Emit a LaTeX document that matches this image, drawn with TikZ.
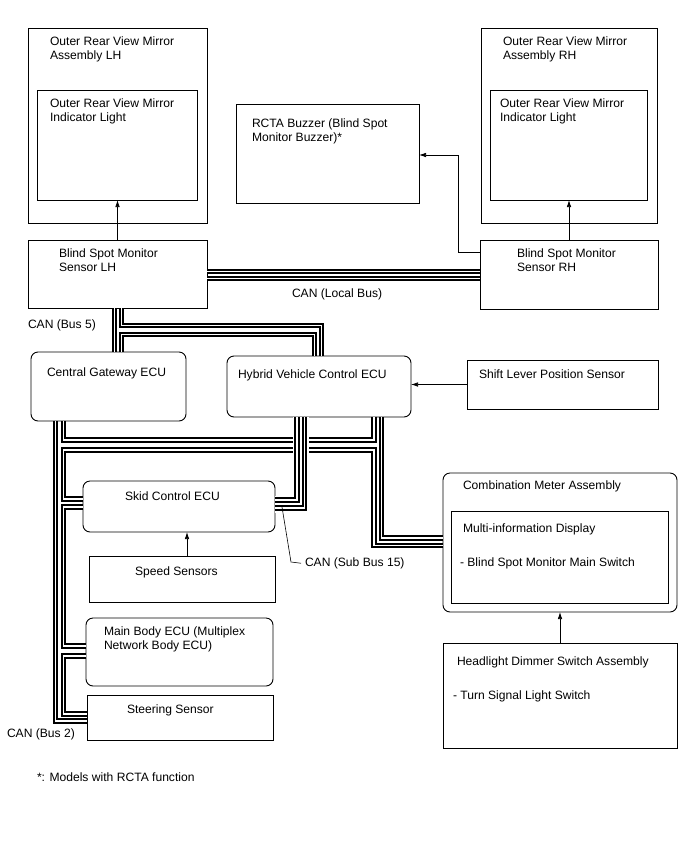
\documentclass[tikz,border=0pt]{standalone}
\usepackage{fontspec}
\setmainfont{Liberation Sans}
\usetikzlibrary{arrows.meta,calc}
\begin{document}
\begin{tikzpicture}[x=1pt,y=-1pt,
  box/.style 2 args={draw=black, line width=0.9pt, anchor=north west, inner sep=0pt, outer sep=0pt, minimum width=#1, minimum height=#2},
  rbox/.style 2 args={box={#1}{#2}, rounded corners=7pt},
  lbl/.style={anchor=north west, inner sep=0pt, outer sep=0pt, align=left, font=\fontsize{12.1}{14.5}\selectfont},
  arr/.style={draw=black, line width=0.7pt, -{Latex[length=7pt,width=4.5pt]}},
  bus/.style={draw=black, line width=2pt, double=white, double distance=1.8pt},
  xbus/.style={bus, preaction={draw=white, line width=9pt}},
  leader/.style={draw=black, line width=0.6pt}
]
\useasboundingbox[fill=white] (0,0) rectangle (688,852);

% ---------- boxes ----------
\node[box={179pt}{195pt}] (lhm) at (28,28) {};
\node[box={160pt}{110pt}] (lind) at (37,90) {};
\node[box={183pt}{99pt}] (buz) at (236,104) {};
\node[box={176pt}{195pt}] (rhm) at (481,28) {};
\node[box={157pt}{110pt}] (rind) at (490,90) {};
\node[box={179pt}{68pt}] (slh) at (28,240) {};
\node[box={178pt}{69pt}] (srh) at (480,240) {};
\node[rbox={155pt}{69pt}] (cg) at (31,352) {};
\node[rbox={184pt}{61pt}] (hv) at (227,356) {};
\node[box={191pt}{49pt}] (shift) at (467,360) {};
\node[rbox={192pt}{51pt}] (sk) at (83,481) {};
\node[box={186pt}{46pt}] (spd) at (89,556) {};
\node[rbox={187pt}{68pt}] (mb) at (86,618) {};
\node[box={186pt}{45pt}] (ss) at (87,695) {};
\node[rbox={234pt}{139pt}] (cm) at (443,473) {};
\node[box={217pt}{92pt}] (mid) at (451,511) {};
\node[box={234pt}{105pt}] (hd) at (443,643) {};

% ---------- texts ----------
\node[lbl] (t-lhm) at (50,36.6) {Outer Rear View Mirror\\Assembly LH};
\node[lbl] (t-lind) at (50,98.6) {Outer Rear View Mirror\\Indicator Light};
\node[lbl] (t-buz) at (252,118.6) {RCTA Buzzer (Blind Spot\\Monitor Buzzer)*};
\node[lbl] (t-rhm) at (503,36.6) {Outer Rear View Mirror\\Assembly RH};
\node[lbl] (t-rind) at (500,98.6) {Outer Rear View Mirror\\Indicator Light};
\node[lbl] (t-slh) at (59,248.6) {Blind Spot Monitor\\Sensor LH};
\node[lbl] (t-srh) at (517,248.6) {Blind Spot Monitor\\Sensor RH};
\node[lbl] (t-local) at (292,288.6) {CAN (Local Bus)};
\node[lbl] (t-bus5) at (28,319.6) {CAN (Bus 5)};
\node[lbl] (t-cg) at (47,367.6) {Central Gateway ECU};
\node[lbl] (t-hv) at (238,369.6) {Hybrid Vehicle Control ECU};
\node[lbl] (t-shift) at (479,369.6) {Shift Lever Position Sensor};
\node[lbl] (t-sk) at (125,491.6) {Skid Control ECU};
\node[lbl] (t-spd) at (135,566.6) {Speed Sensors};
\node[lbl] (t-mb) at (104,626.6) {Main Body ECU (Multiplex\\Network Body ECU)};
\node[lbl] (t-ss) at (127,704.6) {Steering Sensor};
\node[lbl] (t-bus2) at (7,728.6) {CAN (Bus 2)};
\node[lbl] (t-sub) at (305,557.6) {CAN (Sub Bus 15)};
\node[lbl] (t-cm) at (463,480.6) {Combination Meter Assembly};
\node[lbl] (t-mid) at (463,523.6) {Multi-information Display};
\node[lbl] (t-bsm) at (460,557.6) {- Blind Spot Monitor Main Switch};
\node[lbl] (t-hd) at (457,656.6) {Headlight Dimmer Switch Assembly};
\node[lbl] (t-tsl) at (453,690.6) {- Turn Signal Light Switch};
\node[lbl] (t-note) at (37,772.6) {*: Models with RCTA function};

% ---------- signal arrows ----------
\draw[arr] (slh.north) -- (slh.north |- lind.south);
\draw[arr] (srh.north) -- (srh.north |- rind.south);
\coordinate (xbz) at (458,0);
\coordinate (ybz) at (0,155);
\coordinate (ysr) at (0,252);
\draw[arr] (srh.west |- ysr) -- (xbz |- ysr) -- (xbz |- ybz) -- (buz.east |- ybz);
\draw[arr] (shift.west) -- (shift.west -| hv.east);
\draw[arr] ([xshift=98pt]spd.north west) -- ([xshift=98pt]spd.north west |- sk.south);
\draw[arr] (hd.north) -- (hd.north |- cm.south);

% ---------- lanes ----------
\coordinate (yL1) at (0,271.5);
\coordinate (yL2) at (0,278.5);
\coordinate (x5a) at (114.5,0);
\coordinate (x5b) at (121.5,0);
\coordinate (y5a) at (0,325.5);
\coordinate (y5b) at (0,334.5);
\coordinate (x5c) at (321.5,0);
\coordinate (x5d) at (314.5,0);
\coordinate (xA) at (55.5,0);
\coordinate (xB) at (63.5,0);
\coordinate (yR2) at (0,440);
\coordinate (yR3) at (0,450);
\coordinate (xC) at (374,0);
\coordinate (xD) at (381.5,0);
\coordinate (yCM1) at (0,538);
\coordinate (yCM2) at (0,545.5);
\coordinate (ySk1) at (0,499);
\coordinate (ySk2) at (0,507);
\coordinate (yMB1) at (0,646);
\coordinate (yMB2) at (0,656);
\coordinate (ySt1) at (0,714);
\coordinate (ySt2) at (0,721);
\coordinate (xS1) at (297,0);
\coordinate (xS2) at (304.5,0);
\coordinate (yS1) at (0,500);
\coordinate (yS2) at (0,508);

% ---------- CAN local bus ----------
\draw[bus] (slh.east |- yL1) -- (srh.west |- yL1);
\draw[bus] (slh.east |- yL2) -- (srh.west |- yL2);

% ---------- CAN bus 5 ----------
\draw[bus] (slh.south -| x5a) -- (cg.north -| x5a);
\draw[bus] (slh.south -| x5b) -- (x5b |- y5a) -- (x5c |- y5a) -- (hv.north -| x5c);
\draw[bus] (cg.north -| x5b) -- (x5b |- y5b) -- (x5d |- y5b) -- (hv.north -| x5d);

% ---------- CAN bus 2 ----------
\draw[bus] (cg.south -| xA) -- (xA |- ySt2) -- (ss.west |- ySt2);
\draw[bus] (cg.south -| xB) -- (xB |- yR2) -- (xC |- yR2) -- (hv.south -| xC);
\draw[bus] (hv.south -| xD) -- (xD |- yCM1) -- (cm.west |- yCM1);
\draw[bus] (cm.west |- yCM2) -- (xC |- yCM2) -- (xC |- yR3) -- (xB |- yR3) -- (xB |- ySk1) -- (sk.west |- ySk1);
\draw[bus] (sk.west |- ySk2) -- (xB |- ySk2) -- (xB |- yMB1) -- (mb.west |- yMB1);
\draw[bus] (mb.west |- yMB2) -- (xB |- yMB2) -- (xB |- ySt1) -- (ss.west |- ySt1);

% ---------- CAN sub bus 15 ----------
\draw[xbus] (hv.south -| xS1) -- (xS1 |- yS1) -- (sk.east |- yS1);
\draw[xbus] (hv.south -| xS2) -- (xS2 |- yS2) -- (sk.east |- yS2);

% ---------- leader ----------
\coordinate (ldr) at (282,507);
\draw[leader] (ldr) -- ++(9,55) -- ([xshift=-4pt]t-sub.west);
\end{tikzpicture}
\end{document}
